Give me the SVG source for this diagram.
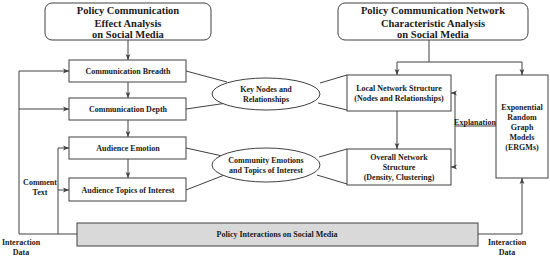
<svg xmlns="http://www.w3.org/2000/svg" width="550" height="257" viewBox="0 0 550 257">
<style>
.box{fill:#fff;stroke:#404040;stroke-width:1}
.bar{fill:#d9d9d9;stroke:#404040;stroke-width:1}
.ln{fill:none;stroke:#404040;stroke-width:1}
text{font-family:"Liberation Serif","Times New Roman",serif;font-weight:bold;fill:#1a1a1a;text-anchor:middle}
.t{font-size:10.5px}
.s{font-size:8px}
</style>
<defs>
<marker id="ah" viewBox="0 0 8 8" refX="8" refY="4" markerWidth="6" markerHeight="6" orient="auto" markerUnits="userSpaceOnUse">
<path d="M0,0.8 L8,4 L0,7.2 L2,4 Z" fill="#404040"/>
</marker>
</defs>
<g id="connectors">
<path class="ln" d="M128,40 V60" marker-end="url(#ah)"/>
<path class="ln" d="M128,82 V98" marker-end="url(#ah)"/>
<path class="ln" d="M128,120 V137" marker-end="url(#ah)"/>
<path class="ln" d="M128,159 V178" marker-end="url(#ah)"/>
<path class="ln" d="M77,234 H19 V71 H69" marker-end="url(#ah)"/>
<path class="ln" d="M19,109 H69" marker-end="url(#ah)"/>
<path class="ln" d="M58,234 V148 H69" marker-end="url(#ah)"/>
<path class="ln" d="M58,190 H69" marker-end="url(#ah)"/>
<path class="ln" d="M478,234 H522 V178" marker-end="url(#ah)"/>
<path class="ln" d="M429,40 V62"/>
<path class="ln" d="M397,62 H522"/>
<path class="ln" d="M397,62 V75" marker-end="url(#ah)"/>
<path class="ln" d="M522,62 V75" marker-end="url(#ah)"/>
<path class="ln" d="M397,111 V149" marker-end="url(#ah)"/>
<path class="ln" d="M496,126 H455"/>
<path class="ln" d="M455,93 V167"/>
<path class="ln" d="M455,93 H451" marker-end="url(#ah)"/>
<path class="ln" d="M455,167 H451" marker-end="url(#ah)"/>
<path class="ln" d="M186,71 L227,82"/>
<path class="ln" d="M186,109 L227,103"/>
<path class="ln" d="M320,83 L347,75"/>
<path class="ln" d="M318,103 L347,110"/>
<path class="ln" d="M186,148 L227,157"/>
<path class="ln" d="M186,190 L227,174"/>
<path class="ln" d="M319,157 L347,149"/>
<path class="ln" d="M317,175 L347,184"/>
</g>
<g id="effect-analysis">
<rect class="box" x="45" y="3" width="166" height="37" rx="7"/>
<text class="t" x="128" y="14">Policy Communication</text>
<text class="t" x="128" y="26.5">Effect Analysis</text>
<text class="t" x="128" y="38">on Social Media</text>
</g>
<g id="network-analysis">
<rect class="box" x="338" y="3" width="190" height="37" rx="7"/>
<text class="t" x="433" y="14">Policy Communication Network</text>
<text class="t" x="433" y="26.5">Characteristic Analysis</text>
<text class="t" x="433" y="38">on Social Media</text>
</g>
<g id="breadth">
<rect class="box" x="69" y="60" width="117" height="22"/>
<text class="s" x="128" y="74">Communication Breadth</text>
</g>
<g id="depth">
<rect class="box" x="69" y="98" width="117" height="22"/>
<text class="s" x="128" y="112">Communication Depth</text>
</g>
<g id="emotion">
<rect class="box" x="69" y="137" width="117" height="22"/>
<text class="s" x="128" y="151">Audience Emotion</text>
</g>
<g id="topics">
<rect class="box" x="69" y="178" width="117" height="23"/>
<text class="s" x="128" y="193">Audience Topics of Interest</text>
</g>
<g id="key-nodes">
<ellipse class="box" cx="266" cy="94" rx="54" ry="16"/>
<text class="s" x="266" y="92">Key Nodes and</text>
<text class="s" x="266" y="101.5">Relationships</text>
</g>
<g id="community">
<ellipse class="box" cx="266" cy="165" rx="54" ry="17"/>
<text class="s" x="266" y="163">Community Emotions</text>
<text class="s" x="266" y="173">and Topics of Interest</text>
</g>
<g id="local">
<rect class="box" x="347" y="75" width="104" height="36"/>
<text class="s" x="399" y="91">Local Network Structure</text>
<text class="s" x="399" y="101">(Nodes and Relationships)</text>
</g>
<g id="overall">
<rect class="box" x="347" y="149" width="104" height="36"/>
<text class="s" x="399" y="160">Overall Network</text>
<text class="s" x="399" y="170">Structure</text>
<text class="s" x="399" y="180">(Density, Clustering)</text>
</g>
<g id="ergm">
<rect class="box" x="496" y="75" width="52" height="103"/>
<text class="s" x="522" y="110">Exponential</text>
<text class="s" x="522" y="120">Random</text>
<text class="s" x="522" y="130">Graph</text>
<text class="s" x="522" y="140">Models</text>
<text class="s" x="522" y="150">(ERGMs)</text>
</g>
<g id="interactions">
<rect class="bar" x="77" y="223" width="401" height="23"/>
<text class="s" x="277" y="237">Policy Interactions on Social Media</text>
</g>
<g id="labels">
<text class="s" x="475" y="124.5">Explanation</text>
<text class="s" x="40" y="185">Comment</text>
<text class="s" x="40" y="195">Text</text>
<text class="s" x="21" y="245">Interaction</text>
<text class="s" x="21" y="255">Data</text>
<text class="s" x="507" y="245">Interaction</text>
<text class="s" x="507" y="255">Data</text>
</g>
</svg>
